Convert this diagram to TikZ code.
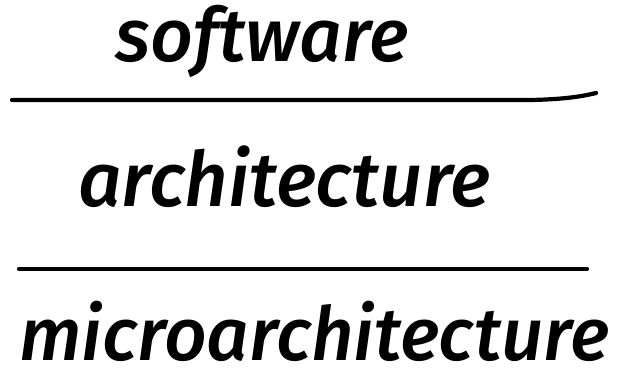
\documentclass[tikz,border=0pt]{standalone}
\usepackage{fontspec}
\setmainfont{Fira Sans Medium}
\begin{document}
\begin{tikzpicture}[x=1pt,y=1pt,
  word/.style={inner sep=0pt, anchor=base west, font=\itshape\fontsize{60}{60}\selectfont},
  rule/.style={line width=4.2pt, line cap=round}]
\useasboundingbox (0,0) rectangle (621,372);
% the three layers
\node[word] (sw)   at (115,310) {\resizebox{293pt}{!}{software}};
\node[word] (arch) at (78,165)  {\resizebox{412pt}{!}{architecture}};
\node[word] (uarch) at (19,11)  {\resizebox{590pt}{!}{microarchitecture}};
% separators
\coordinate (t1) at (12,272);
\coordinate (t2) at (530,272);
\coordinate (t3) at (596,279);
\draw[rule] (t1) -- (t2) .. controls (560,272.5) and (580,275) .. (t3);
\coordinate (b1) at (19,103);
\coordinate (b2) at (587,103);
\draw[rule] (b1) -- (b2);
\end{tikzpicture}
\end{document}
